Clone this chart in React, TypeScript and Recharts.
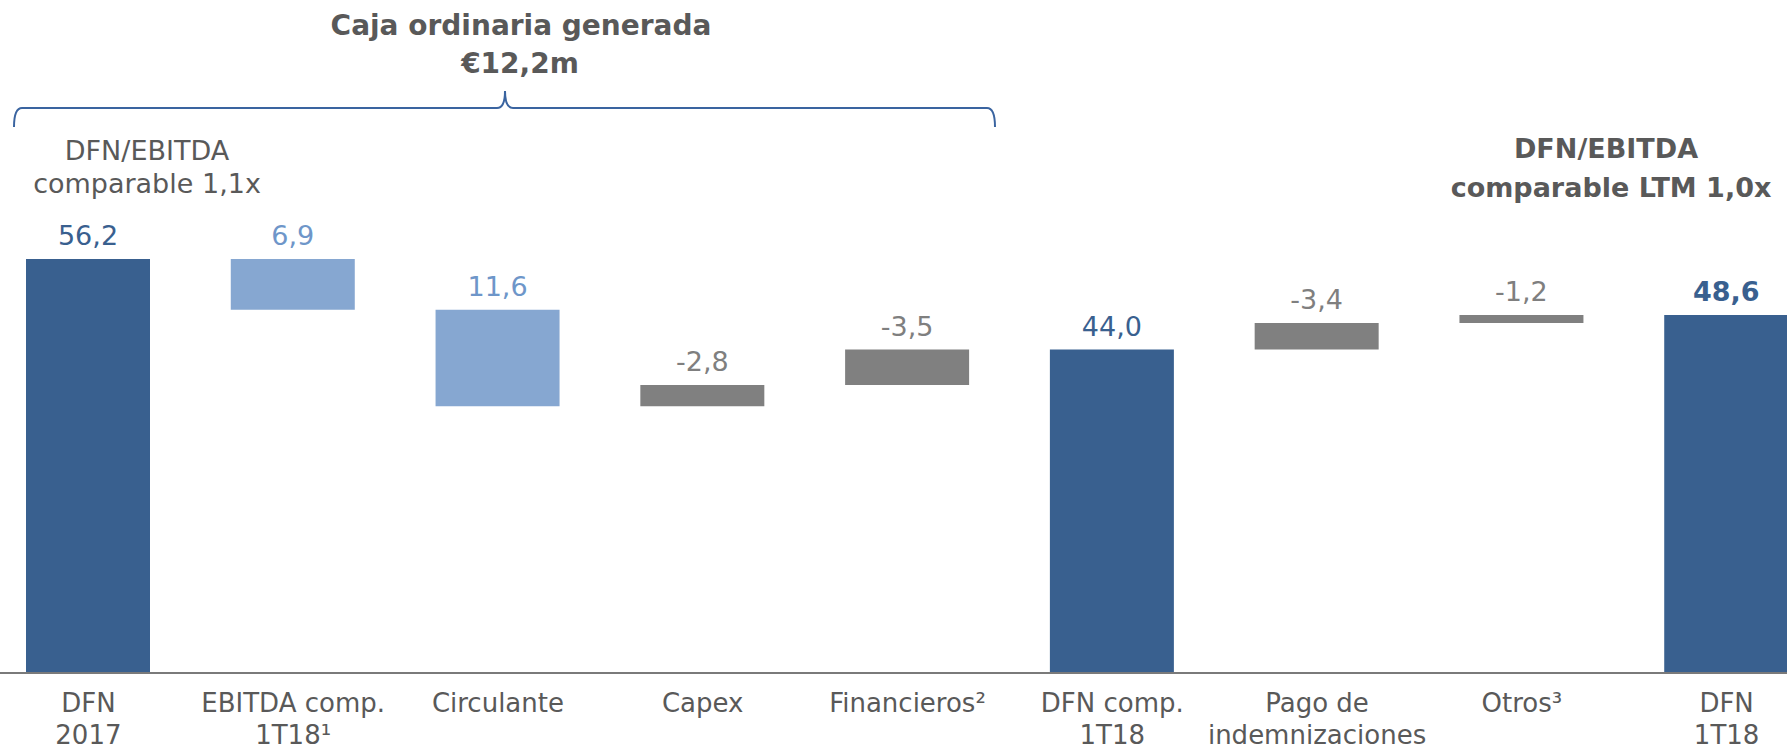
import { BarChart, Bar, XAxis, YAxis, Cell, LabelList } from "recharts";

const categories = [
  "DFN\n2017",
  "EBITDA comp.\n1T18¹",
  "Circulante",
  "Capex",
  "Financieros²",
  "DFN comp.\n1T18",
  "Pago de\nindemnizaciones",
  "Otros³",
  "DFN\n1T18",
];
const valueLabels = ["56,2", "6,9", "11,6", "-2,8", "-3,5", "44,0", "-3,4", "-1,2", "48,6"];
// bar bottoms and tops as drawn in the picture
const barLow = [0, 49.3, 36.2, 36.2, 39.1, 0, 43.9, 47.5, 0];
const barHigh = [56.2, 56.2, 49.3, 39.1, 43.9, 43.9, 47.5, 48.6, 48.6];
const barKind = ["total", "up", "up", "down", "down", "total", "down", "down", "total"];

const fillByKind: Record<string, string> = { total: "#39608f", up: "#86a7d1", down: "#808080" };
const labelColorByKind: Record<string, string> = { total: "#39608f", up: "#6e96c9", down: "#7f7f7f" };

const data = categories.map((name, i) => ({
  name,
  range: [barLow[i], barHigh[i]],
  label: valueLabels[i],
}));

const FONT = "'DejaVu Sans', sans-serif";

function Tick(props: any) {
  const { x, y, payload } = props;
  const lines = String(payload.value).split("\n");
  return (
    <text x={x} y={y} textAnchor="middle" fill="#595959" fontSize={26} fontFamily={FONT}>
      {lines.map((l, i) => (
        <tspan key={i} x={x} dy={i === 0 ? 39 : 32}>
          {l}
        </tspan>
      ))}
    </text>
  );
}

function ValueLabel(props: any) {
  const { x, y, width, value, index } = props;
  const kind = barKind[index];
  const last = index === categories.length - 1;
  return (
    <text
      x={x + width / 2}
      y={y - 14}
      textAnchor="middle"
      fill={labelColorByKind[kind]}
      fontSize={27}
      fontWeight={last ? "bold" : "normal"}
      fontFamily={FONT}
    >
      {value}
    </text>
  );
}

export default function App() {
  return (
    <div style={{ position: "absolute", left: 0, top: 0, width: 1787, height: 751, overflow: "hidden", background: "#fff" }}>
      <div style={{ position: "absolute", left: -14, top: 0 }}>
        <BarChart
          width={1843}
          height={751}
          data={data}
          margin={{ top: 231, right: 0, bottom: 0, left: 0 }}
          barSize={124}
        >
          <XAxis
            dataKey="name"
            height={78}
            tickLine={false}
            tickSize={0}
            tickMargin={0}
            interval={0}
            axisLine={{ stroke: "#7a7a7a", strokeWidth: 2 }}
            tick={<Tick />}
          />
          <YAxis hide domain={[0, 60]} allowDataOverflow />
          <Bar dataKey="range" isAnimationActive={false}>
            {data.map((_, i) => (
              <Cell key={i} fill={fillByKind[barKind[i]]} />
            ))}
            <LabelList dataKey="label" content={<ValueLabel />} />
          </Bar>
        </BarChart>
      </div>
      <svg
        width={1787}
        height={751}
        style={{ position: "absolute", left: 0, top: 0, pointerEvents: "none" }}
        fontFamily={FONT}
      >
        <text x={521} y={35} textAnchor="middle" fontSize={28} fontWeight="bold" fill="#595959">
          Caja ordinaria generada
        </text>
        <text x={520} y={73} textAnchor="middle" fontSize={28} fontWeight="bold" fill="#595959">
          €12,2m
        </text>
        <path
          d="M14,127 Q14,108 22,108 L497,108 Q505,108 505,91 Q505,108 513,108 L987,108 Q995,108 995,127"
          fill="none"
          stroke="#3a64a0"
          strokeWidth={2}
        />
        <text x={147} y={160} textAnchor="middle" fontSize={27} fill="#595959">
          DFN/EBITDA
        </text>
        <text x={147} y={193} textAnchor="middle" fontSize={27} fill="#595959">
          comparable 1,1x
        </text>
        <text x={1606} y={158} textAnchor="middle" fontSize={27} fontWeight="bold" fill="#595959">
          DFN/EBITDA
        </text>
        <text x={1611} y={197} textAnchor="middle" fontSize={27} fontWeight="bold" fill="#595959">
          comparable LTM 1,0x
        </text>
      </svg>
    </div>
  );
}
